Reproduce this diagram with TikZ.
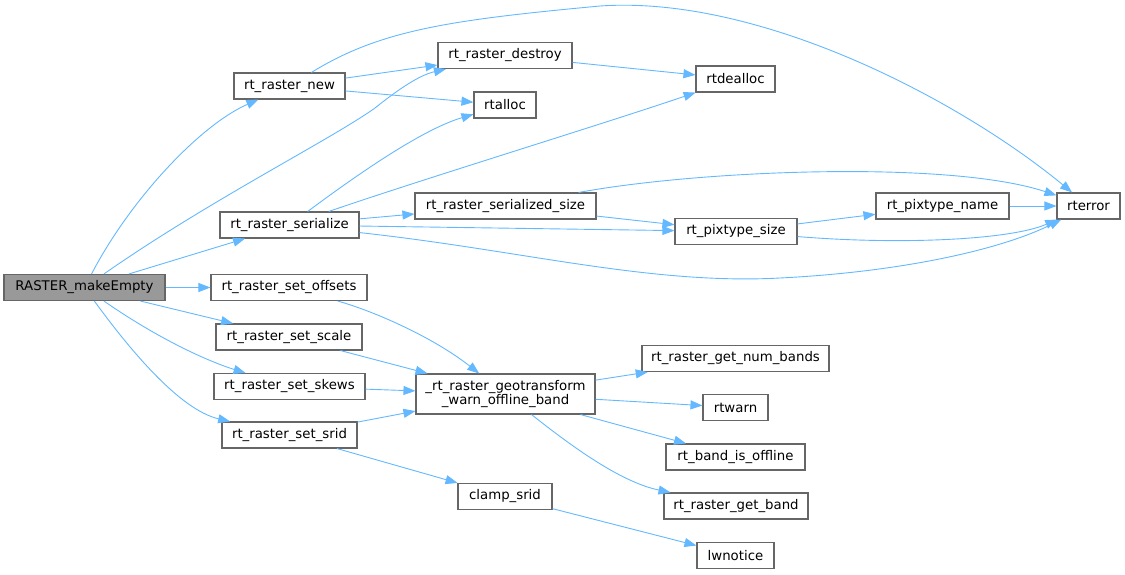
\documentclass[tikz,border=0pt]{standalone}
\usepackage{fontspec}
\setmainfont{DejaVu Sans}
\usetikzlibrary{arrows.meta}
\definecolor{edgeblue}{HTML}{63B8FF}
\definecolor{boxgray}{HTML}{666666}
\definecolor{mainfill}{HTML}{999999}
\begin{document}
\begin{tikzpicture}[x = 1pt, y = -1pt,
	func/.style = {fill=white,rectangle,draw=boxgray,line width=1.1pt,inner sep=0pt,minimum height=26pt,font=\fontsize{13.3}{14.5}\selectfont,align=center},
	mainfunc/.style = {func,fill=mainfill},
	calls/.style = {draw=edgeblue,line width=0.9pt,-{Triangle[length=12pt,width=9pt]}},]
		\useasboundingbox (0,0) rectangle (1125,574);
		\node[mainfunc,minimum width=161pt] (A) at (84.5,287.5) {RASTER\_makeEmpty};
		\node[func,minimum width=111pt] (B) at (289.5,86) {rt\_raster\_new};
		\node[func,minimum width=134pt] (C) at (505,55.5) {rt\_raster\_destroy};
		\node[func,minimum width=62pt] (D) at (505,105) {rtalloc};
		\node[func,minimum width=79pt] (E) at (735.5,79) {rtdealloc};
		\node[func,minimum width=139pt] (F) at (289.5,225) {rt\_raster\_serialize};
		\node[func,minimum width=181pt] (G) at (505.5,206) {rt\_raster\_serialized\_size};
		\node[func,minimum width=122pt] (H) at (736,231.5) {rt\_pixtype\_size};
		\node[func,minimum width=133pt] (I) at (942.5,206) {rt\_pixtype\_name};
		\node[func,minimum width=63pt] (J) at (1088.5,206) {rterror};
		\node[func,minimum width=156pt] (K) at (289,287.5) {rt\_raster\_set\_offsets};
		\node[func,minimum width=146pt] (L) at (289,337) {rt\_raster\_set\_scale};
		\node[func,minimum width=151pt] (M) at (289.5,386.5) {rt\_raster\_set\_skews};
		\node[func,minimum width=135pt] (N) at (289.5,435) {rt\_raster\_set\_srid};
		\node[func,minimum width=179pt,minimum height=40pt] (O) at (505.5,394) {\_rt\_raster\_geotransform\\\_warn\_offline\_band};
		\node[func,minimum width=94pt] (P) at (505,496.5) {clamp\_srid};
		\node[func,minimum width=187pt] (Q) at (735.5,358.5) {rt\_raster\_get\_num\_bands};
		\node[func,minimum width=65pt] (R) at (735.5,407.5) {rtwarn};
		\node[func,minimum width=139pt] (S) at (735.5,457) {rt\_band\_is\_offline};
		\node[func,minimum width=144pt] (T) at (736,506) {rt\_raster\_get\_band};
		\node[func,minimum width=77pt] (U) at (735.5,555.5) {lwnotice};
		
		\draw[calls] (A) .. controls (130,200) and (200,125) .. (B);
		\draw[calls] (A) .. controls (210,200) and (330,140) .. (375,108) .. controls (400,88) and (420,75) .. (C);
		\draw[calls] (A) -- (F);
		\draw[calls] (A) -- (K);
		\draw[calls] (A) -- (L);
		\draw[calls] (A) .. controls (160,340) and (210,362) .. (M);
		\draw[calls] (A) .. controls (130,350) and (180,410) .. (N);
		\draw[calls] (B) -- (C);
		\draw[calls] (B) -- (D);
		\draw[calls] (B) .. controls (380,30) and (450,20) .. (600,6) .. controls (760,-5) and (960,100) .. (J);
		\draw[calls] (C) -- (E);
		\draw[calls] (F) .. controls (350,180) and (420,130) .. (D);
		\draw[calls] (F) .. controls (420,180) and (600,125) .. (E);
		\draw[calls] (F) -- (G);
		\draw[calls] (F) -- (H);
		\draw[calls] (F) .. controls (520,250) and (650,285) .. (780,278) .. controls (900,272) and (1000,250) .. (J);
		\draw[calls] (G) -- (H);
		\draw[calls] (G) .. controls (700,170) and (950,160) .. (J);
		\draw[calls] (H) -- (I);
		\draw[calls] (H) .. controls (900,245) and (1010,240) .. (J);
		\draw[calls] (I) -- (J);
		\draw[calls] (K) .. controls (370,310) and (430,335) .. (O);
		\draw[calls] (L) -- (O);
		\draw[calls] (M) -- (O);
		\draw[calls] (N) -- (O);
		\draw[calls] (N) -- (P);
		\draw[calls] (O) -- (Q);
		\draw[calls] (O) -- (R);
		\draw[calls] (O) -- (S);
		\draw[calls] (O) .. controls (570,445) and (620,482) .. (T);
		\draw[calls] (P) -- (U);
	\end{tikzpicture}
\end{document}
